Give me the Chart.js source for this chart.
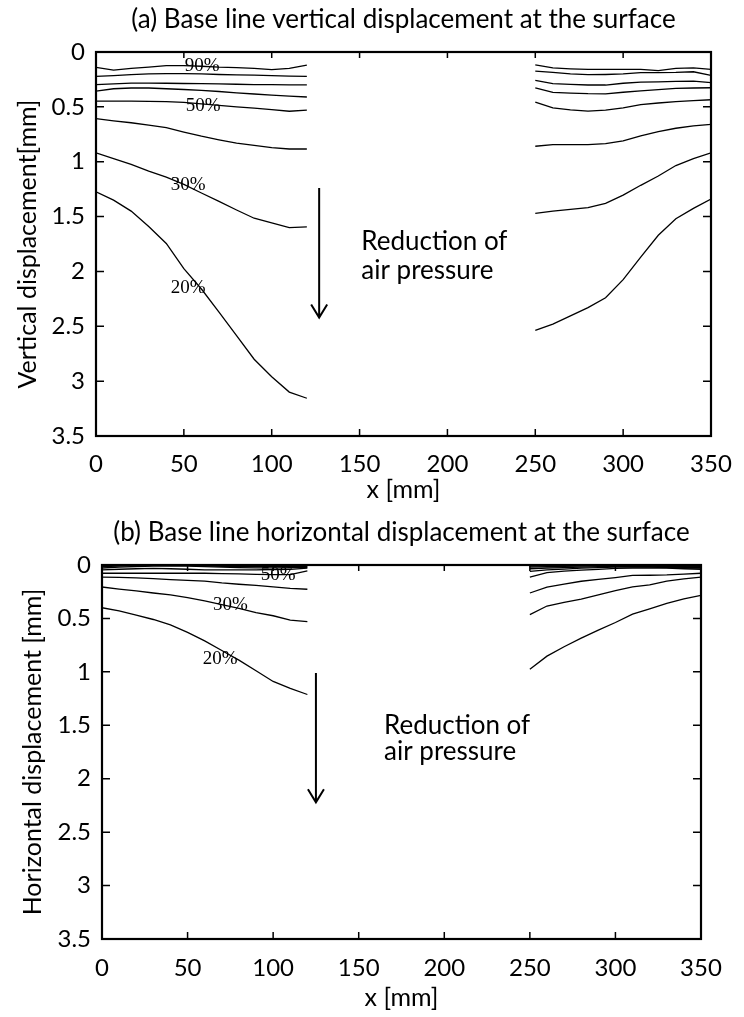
<!DOCTYPE html>
<html>
<head>
<meta charset="utf-8">
<script src="https://cdn.jsdelivr.net/npm/chart.js@4.4.1/dist/chart.umd.min.js"></script>
<style>
  html, body { margin: 0; padding: 0; background: #fff; }
  #wrapA { position: absolute; left: 0; top: 0; width: 744px; height: 505px; }
  #wrapB { position: absolute; left: 0; top: 505px; width: 744px; height: 512px; }
</style>
</head>
<body>
<div id="wrapA"><canvas id="chartA"></canvas></div>
<div id="wrapB"><canvas id="chartB"></canvas></div>
<script>
// x positions of the measured points (mm)
const xLeft = [0, 10, 20, 30, 40, 50, 60, 70, 80, 90, 100, 110, 120]
const xRight = [250, 260, 270, 280, 290, 300, 310, 320, 330, 340, 350]
const xTicks = [0, 50, 100, 150, 200, 250, 300, 350]
const yTicks = [0, 0.5, 1, 1.5, 2, 2.5, 3, 3.5]
const yTickLabels = ['0', '0.5', '1', '1.5', '2', '2.5', '3', '3.5']
const levels = ['90%', '80%', '70%', '60%', '50%', '40%', '30%', '20%']

// (a) vertical displacement [mm], left part
const vLeft90 = [0.14, 0.165, 0.15, 0.138, 0.125, 0.125, 0.13, 0.138, 0.142, 0.15, 0.16, 0.15, 0.12]
const vLeft80 = [0.223, 0.215, 0.207, 0.2, 0.198, 0.198, 0.2, 0.205, 0.208, 0.21, 0.215, 0.22, 0.223]
const vLeft70 = [0.298, 0.29, 0.283, 0.283, 0.285, 0.287, 0.288, 0.29, 0.294, 0.297, 0.298, 0.3, 0.3]
const vLeft60 = [0.356, 0.335, 0.328, 0.328, 0.335, 0.342, 0.35, 0.36, 0.372, 0.383, 0.393, 0.402, 0.41]
const vLeft50 = [0.447, 0.447, 0.448, 0.45, 0.453, 0.46, 0.472, 0.487, 0.5, 0.512, 0.525, 0.54, 0.529]
const vLeft40 = [0.607, 0.627, 0.645, 0.667, 0.69, 0.73, 0.767, 0.8, 0.83, 0.852, 0.872, 0.884, 0.884]
const vLeft30 = [0.92, 0.972, 1.025, 1.085, 1.14, 1.206, 1.285, 1.362, 1.44, 1.515, 1.557, 1.6, 1.593]
const vLeft20 = [1.274, 1.35, 1.45, 1.59, 1.745, 1.975, 2.16, 2.37, 2.585, 2.8, 2.96, 3.1, 3.156]

// (a) vertical displacement [mm], right part
const vRight90 = [0.117, 0.145, 0.153, 0.159, 0.159, 0.159, 0.159, 0.17, 0.15, 0.144, 0.159]
const vRight80 = [0.174, 0.186, 0.2, 0.207, 0.205, 0.2, 0.188, 0.188, 0.186, 0.18, 0.214]
const vRight70 = [0.259, 0.289, 0.296, 0.301, 0.301, 0.285, 0.275, 0.272, 0.268, 0.265, 0.28]
const vRight60 = [0.326, 0.368, 0.374, 0.38, 0.381, 0.367, 0.354, 0.343, 0.331, 0.328, 0.326]
const vRight50 = [0.456, 0.51, 0.528, 0.538, 0.53, 0.51, 0.48, 0.465, 0.452, 0.443, 0.435]
const vRight40 = [0.859, 0.844, 0.844, 0.844, 0.835, 0.81, 0.765, 0.725, 0.695, 0.674, 0.659]
const vRight30 = [1.471, 1.45, 1.435, 1.418, 1.38, 1.305, 1.215, 1.13, 1.035, 0.971, 0.92]
const vRight20 = [2.538, 2.48, 2.405, 2.33, 2.24, 2.075, 1.87, 1.67, 1.52, 1.425, 1.34]

// (b) horizontal displacement [mm], left part
const hLeft90 = [0.005, 0.003, 0, 0, 0.002, 0.004, 0.005, 0.004, 0.003, 0.003, 0.004, 0.004, 0.005]
const hLeft80 = [0.015, 0.01, 0.006, 0.004, 0.003, 0.004, 0.008, 0.012, 0.014, 0.015, 0.014, 0.013, 0.012]
const hLeft70 = [0.028, 0.02, 0.014, 0.01, 0.008, 0.01, 0.015, 0.02, 0.024, 0.026, 0.026, 0.024, 0.022]
const hLeft60 = [0.046, 0.04, 0.035, 0.032, 0.035, 0.04, 0.045, 0.045, 0.045, 0.045, 0.042, 0.04, 0.03]
const hLeft50 = [0.077, 0.077, 0.077, 0.077, 0.077, 0.077, 0.077, 0.08, 0.083, 0.087, 0.09, 0.09, 0.055]
const hLeft40 = [0.114, 0.116, 0.12, 0.128, 0.137, 0.143, 0.15, 0.168, 0.18, 0.19, 0.205, 0.218, 0.227]
const hLeft30 = [0.206, 0.225, 0.242, 0.262, 0.28, 0.305, 0.336, 0.37, 0.405, 0.445, 0.475, 0.515, 0.53]
const hLeft20 = [0.4, 0.43, 0.47, 0.51, 0.56, 0.63, 0.71, 0.8, 0.89, 0.99, 1.09, 1.155, 1.212]

// (b) horizontal displacement [mm], right part
const hRight90 = [0.01, 0.008, 0.006, 0.004, 0.003, 0.003, 0.004, 0.006, 0.008, 0.01, 0.012]
const hRight80 = [0.02, 0.016, 0.013, 0.01, 0.007, 0.005, 0.006, 0.01, 0.014, 0.016, 0.018]
const hRight70 = [0.035, 0.028, 0.024, 0.02, 0.016, 0.012, 0.012, 0.016, 0.02, 0.022, 0.025]
const hRight60 = [0.06, 0.045, 0.038, 0.03, 0.025, 0.02, 0.018, 0.02, 0.024, 0.028, 0.03]
const hRight50 = [0.114, 0.071, 0.058, 0.048, 0.04, 0.032, 0.028, 0.028, 0.03, 0.035, 0.04]
const hRight40 = [0.262, 0.206, 0.178, 0.152, 0.135, 0.118, 0.098, 0.096, 0.093, 0.085, 0.077]
const hRight30 = [0.465, 0.384, 0.35, 0.32, 0.28, 0.24, 0.205, 0.186, 0.15, 0.13, 0.113]
const hRight20 = [0.975, 0.853, 0.765, 0.685, 0.61, 0.538, 0.46, 0.41, 0.36, 0.318, 0.285]

const vertLeft = [vLeft90, vLeft80, vLeft70, vLeft60, vLeft50, vLeft40, vLeft30, vLeft20]
const vertRight = [vRight90, vRight80, vRight70, vRight60, vRight50, vRight40, vRight30, vRight20]
const horLeft = [hLeft90, hLeft80, hLeft70, hLeft60, hLeft50, hLeft40, hLeft30, hLeft20]
const horRight = [hRight90, hRight80, hRight70, hRight60, hRight50, hRight40, hRight30, hRight20]

const sansFont = "Lato, 'Open Sans', sans-serif"
const serifFont = "'Liberation Serif', 'DejaVu Serif', serif"

function makeDatasets(leftSets, rightSets) {
  var out = []
  levels.forEach(function (lvl, i) {
    out.push({ label: lvl + ' left', data: xLeft.map((x, j) => ({ x: x, y: leftSets[i][j] })) })
    out.push({ label: lvl + ' right', data: xRight.map((x, j) => ({ x: x, y: rightSets[i][j] })) })
  })
  out.forEach(d => {
    d.borderColor = '#000'
    d.borderWidth = 1.3
    d.pointRadius = 0
    d.tension = 0
    d.fill = false
  })
  return out
}

// box, inward ticks, arrow and text notes
const boxAndNotes = {
  id: 'boxAndNotes',
  afterDatasetsDraw(chart, args, opts) {
    const ctx = chart.ctx
    const a = chart.chartArea
    const x = chart.scales.x
    const y = chart.scales.y
    ctx.save()
    ctx.strokeStyle = '#000'
    ctx.lineWidth = 1.5
    ctx.beginPath()
    xTicks.forEach(v => {
      const px = x.getPixelForValue(v)
      ctx.moveTo(px, a.bottom); ctx.lineTo(px, a.bottom - 7)
      ctx.moveTo(px, a.top); ctx.lineTo(px, a.top + 6)
    })
    yTicks.forEach(v => {
      const py = y.getPixelForValue(v)
      ctx.moveTo(a.left, py); ctx.lineTo(a.left + 8, py)
      ctx.moveTo(a.right, py); ctx.lineTo(a.right - 8, py)
    })
    ctx.stroke()
    ctx.lineWidth = 2.2
    ctx.strokeRect(a.left, a.top, a.right - a.left, a.bottom - a.top)

    // arrow
    const ax = x.getPixelForValue(opts.arrow.x)
    const ay1 = y.getPixelForValue(opts.arrow.from)
    const ay2 = y.getPixelForValue(opts.arrow.to)
    ctx.lineWidth = 2
    ctx.beginPath()
    ctx.moveTo(ax, ay1); ctx.lineTo(ax, ay2)
    ctx.moveTo(ax - 8, ay2 - 13); ctx.lineTo(ax, ay2); ctx.lineTo(ax + 8, ay2 - 13)
    ctx.stroke()

    ctx.fillStyle = '#000'
    ctx.textBaseline = 'middle'
    ctx.textAlign = 'left'
    ctx.font = '26px ' + sansFont
    opts.text.forEach(t => {
      ctx.fillText(t.s, x.getPixelForValue(t.x), y.getPixelForValue(t.y))
    })
    ctx.textAlign = 'center'
    ctx.font = '19px ' + serifFont
    opts.tags.forEach(t => {
      ctx.fillText(t.s, x.getPixelForValue(t.x), y.getPixelForValue(t.y))
    })
    ctx.restore()
  }
}

function makeChart(id, title, yTitle, leftSets, rightSets, geo, notes) {
  return new Chart(document.getElementById(id), {
    type: 'line',
    data: { datasets: makeDatasets(leftSets, rightSets) },
    plugins: [boxAndNotes],
    options: {
      animation: false,
      responsive: true,
      maintainAspectRatio: false,
      devicePixelRatio: 1,
      layout: { padding: { left: 0, right: geo.padRight, top: 0, bottom: 0 } },
      plugins: {
        legend: { display: false },
        tooltip: { enabled: false },
        title: {
          display: true,
          fullSize: false,
          text: title,
          color: '#000',
          font: { family: sansFont, size: 26, weight: 'normal', lineHeight: 1.2 },
          padding: { top: geo.titleTop, bottom: geo.titleBottom }
        },
        boxAndNotes: notes
      },
      scales: {
        x: {
          type: 'linear',
          min: 0,
          max: 350,
          afterBuildTicks: s => { s.ticks = xTicks.map(v => ({ value: v })) },
          afterFit: s => { s.height = geo.xHeight },
          grid: { display: false },
          border: { display: false },
          ticks: { color: '#000', padding: geo.xTickPad, maxRotation: 0, font: { family: sansFont, size: 24 } },
          title: {
            display: true,
            text: 'x [mm]',
            color: '#000',
            font: { family: sansFont, size: 25, lineHeight: 1.2 },
            padding: { top: 0, bottom: geo.xTitleBottom }
          }
        },
        y: {
          type: 'linear',
          reverse: true,
          min: 0,
          max: 3.5,
          afterBuildTicks: s => { s.ticks = yTicks.map(v => ({ value: v })) },
          afterFit: s => { s.width = geo.yWidth },
          grid: { display: false },
          border: { display: false },
          ticks: {
            color: '#000',
            padding: 3,
            font: { family: sansFont, size: 24 },
            callback: (v, i) => yTickLabels[i]
          },
          title: {
            display: true,
            text: yTitle,
            color: '#000',
            font: { family: sansFont, size: 25, lineHeight: 1.2 },
            padding: { top: geo.yTitleTop, bottom: 0 }
          }
        }
      }
    }
  })
}

makeChart('chartA', '(a) Base line vertical displacement at the surface', 'Vertical displacement[mm]',
  vertLeft, vertRight,
  { padRight: 33, titleTop: 4.4, titleBottom: 16.4, xHeight: 69, xTickPad: 5.6, xTitleBottom: 0, yWidth: 96, yTitleTop: 13 },
  {
    arrow: { x: 127, from: 1.24, to: 2.42 },
    text: [{ s: 'Reduction of', x: 151, y: 1.73 }, { s: 'air pressure', x: 151, y: 1.99 }],
    tags: [{ s: '90%', x: 60.4, y: 0.13 }, { s: '50%', x: 61, y: 0.495 }, { s: '30%', x: 52.4, y: 1.21 }, { s: '20%', x: 52.4, y: 2.15 }]
  })

makeChart('chartB', '(b) Base line horizontal displacement at the surface', 'Horizontal displacement [mm]',
  horLeft, horRight,
  { padRight: 43, titleTop: 12.4, titleBottom: 16.4, xHeight: 78, xTickPad: 6.6, xTitleBottom: 4, yWidth: 102, yTitleTop: 18 },
  {
    arrow: { x: 125, from: 1.01, to: 2.22 },
    text: [{ s: 'Reduction of', x: 164.8, y: 1.5 }, { s: 'air pressure', x: 164.8, y: 1.75 }],
    tags: [{ s: '50%', x: 103, y: 0.094 }, { s: '30%', x: 75, y: 0.374 }, { s: '20%', x: 69, y: 0.88 }]
  })
</script>
</body>
</html>
